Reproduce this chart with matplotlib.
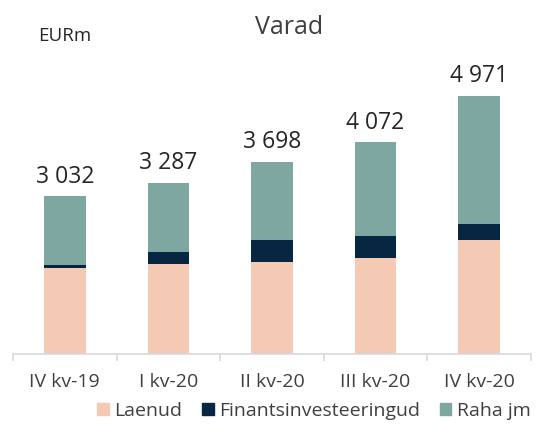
import numpy as np
import matplotlib.pyplot as plt
from matplotlib.patches import Patch

# andmed (EURm)
kvartalid = ["IV kv-19", "I kv-20", "II kv-20", "III kv-20", "IV kv-20"]
kokku = [3032, 3287, 3698, 4072, 4971]
laenud = [1660, 1737, 1776, 1853, 2200]
finants = [55, 232, 425, 425, 309]
raha = [k - l - f for k, l, f in zip(kokku, laenud, finants)]

c_laen = "#F4CAB4"
c_fin = "#062641"
c_raha = "#7DA7A0"

plt.rcParams['font.family'] = ['Open Sans', 'DejaVu Sans']

fig = plt.figure(figsize=(5.51, 4.29), dpi=100)
ax = fig.add_axes([0.0236, 0.175, 0.94, 0.69])

x = np.arange(len(kvartalid))
w = 0.4
ax.bar(x, laenud, w, color=c_laen)
ax.bar(x, finants, w, bottom=laenud, color=c_fin)
ax.bar(x, raha, w, bottom=np.array(laenud) + np.array(finants), color=c_raha)

for xi, k in zip(x, kokku):
    s = f"{k:,}".replace(",", " ")
    ax.text(xi, k + 150, s, ha="center", va="bottom", fontsize=16.5, color="#262626")

ax.set_xlim(-0.5, len(kvartalid) - 0.5)
ax.set_ylim(0, 5700)
ax.set_yticks([])
for s in ["top", "right", "left"]:
    ax.spines[s].set_visible(False)
ax.spines["bottom"].set_color("#D9D9D9")
ax.spines["bottom"].set_linewidth(1.2)

ax.set_xticks(np.arange(len(kvartalid) + 1) - 0.5, minor=False)
ax.set_xticklabels([])
ax.tick_params(axis="x", length=5, color="#D9D9D9", width=1.2)
for xi, lab in zip(x, kvartalid):
    ax.text(xi, -0.095, lab, transform=ax.get_xaxis_transform(), ha="center", va="center",
            fontsize=14, color="#404040")

fig.text(0.525, 0.935, "Varad", ha="center", va="center", fontsize=18, color="#404040")
fig.text(0.069, 0.915, "EURm", ha="left", va="center", fontsize=13.5, color="#262626")

handles = [Patch(color=c_laen, label="Laenud"),
           Patch(color=c_fin, label="Finantsinvesteeringud"),
           Patch(color=c_raha, label="Raha jm")]
fig.legend(handles=handles, loc="center", bbox_to_anchor=(0.57, 0.042), ncol=3, frameon=False,
           fontsize=14, handlelength=0.6, handleheight=0.6, handletextpad=0.3, columnspacing=1.0,
           labelcolor="#404040")

fig.savefig("out.png", dpi=100)
